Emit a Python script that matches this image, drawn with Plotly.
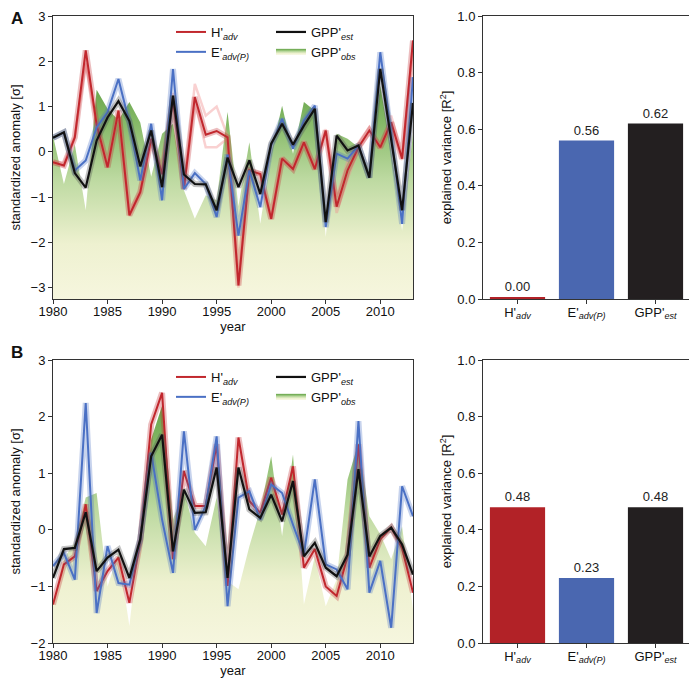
import plotly.graph_objects as go

years = list(range(1980, 2014))

# ---------- Panel A ----------
hadv_a = [-0.23, -0.30, 0.32, 2.24, 0.60, -0.34, 0.91, -1.40, -0.89, 0.29,
          -0.49, 1.17, -0.82, 1.21, 0.38, 0.46, 0.32, -2.95, -0.41, -0.49,
          -1.48, -0.15, -0.38, 0.21, -0.38, 0.47, -1.21, -0.41, 0.10, 0.47,
          0.10, 0.65, -0.15, 2.46]
hadv_a_ens1 = [-0.20, -0.25, 0.35, 1.95, 0.62, -0.30, 0.88, -1.35, -0.85, 0.25,
               -0.45, 1.30, -0.80, 1.50, 0.80, 1.00, 0.35, -2.80, -0.40, -0.45,
               -1.45, -0.12, -0.35, 0.25, -0.35, 0.50, -1.00, -0.20, 0.20, 0.55,
               0.05, 0.80, -0.10, 2.30]
hadv_a_ens2 = [-0.25, -0.32, 0.30, 2.10, 0.58, -0.36, 0.93, -1.42, -0.92, 0.20,
               -0.52, 1.10, -0.84, 1.10, 0.10, 0.10, 0.30, -3.00, -0.43, -0.52,
               -1.50, -0.18, -0.40, 0.18, -0.40, 0.45, -1.35, -0.60, 0.05, 0.40,
               0.15, 0.55, -0.18, 2.40]
eadv_a = [0.31, 0.43, -0.41, -0.19, 0.54, 0.88, 1.61, 0.65, -0.63, 0.62,
          -1.07, 1.83, -0.82, -0.47, -0.71, -1.44, -0.06, -1.85, -0.41, -1.22,
          0.14, 0.73, 0.07, 0.69, 1.02, -1.66, -0.04, -0.15, 0.14, -0.57,
          2.20, 0.40, -1.59, 1.65]
gppest_a = [0.31, 0.43, -0.47, -0.79, 0.25, 0.76, 1.12, 0.68, -0.32, 0.47,
            -0.78, 1.24, -0.50, -0.71, -0.72, -1.29, -0.13, -0.78, -0.19, -0.93,
            0.18, 0.62, 0.16, 0.58, 0.95, -1.55, 0.36, 0.03, 0.14, -0.57,
            1.83, 0.29, -1.29, 1.08]
gppobs_a = [0.35, -0.71, 0.16, -1.29, 1.37, 0.95, 0.70, 1.10, 0.65, -0.55,
            0.40, 0.62, -0.85, -1.48, -0.96, -1.07, 0.88, -1.20, 0.21, -1.59,
            -0.04, 1.02, -0.04, 1.10, 0.91, -1.88, 0.40, 0.29, 0.10, -0.41,
            1.46, 0.03, -1.74, 0.40]

# ---------- Panel B ----------
hadv_b = [-1.32, -0.61, -0.47, 0.45, -1.08, -0.73, -0.49, -1.29, -0.20, 1.86,
          2.42, -0.52, 1.04, 0.42, 0.42, 1.51, -0.99, 1.63, 0.51, 0.30,
          0.92, 0.27, 1.12, -0.67, -0.34, -1.00, -1.17, -0.47, 1.51, -0.67,
          -0.17, 0.04, -0.32, -1.11]
eadv_b = [-0.64, -0.41, -0.88, 2.24, -1.47, -0.29, -0.94, -0.97, -0.17, 1.36,
          0.18, -0.76, 1.74, 0.00, 0.42, 1.65, -1.35, 0.57, 0.68, 0.18,
          0.80, 0.65, 0.09, -0.44, 0.89, -0.61, -0.70, -1.05, 1.92, -1.11,
          -0.55, -1.73, 0.77, 0.24]
gppest_b = [-0.85, -0.34, -0.32, 0.31, -0.73, -0.49, -0.35, -0.85, -0.17, 1.30,
            1.68, -0.38, 0.71, 0.30, 0.31, 1.10, -0.85, 1.10, 0.36, 0.21,
            0.62, 0.15, 0.86, -0.47, -0.23, -0.67, -0.82, -0.44, 1.07, -0.47,
            -0.11, 0.04, -0.26, -0.79]
gppobs_b = [-1.30, -0.50, -0.23, 0.57, 0.65, -1.00, -0.41, -1.70, 0.00, 1.60,
            2.19, 0.18, 0.71, -0.05, -0.29, 0.57, -0.91, -1.05, -0.29, 0.36,
            1.30, -0.11, 1.33, -1.32, -0.47, -1.35, -0.88, 0.89, 1.54, 0.24,
            -0.08, -0.52, 0.06, -1.41]

# ---------- Bars ----------
bar_cats = ["H'<sub><i>adv</i></sub>", "E'<sub><i>adv(P)</i></sub>", "GPP'<sub><i>est</i></sub>"]
r2_a = [0.004, 0.56, 0.62]
r2_b = [0.48, 0.23, 0.48]

yrange_a = [-3.25, 3.0]
yrange_b = [-2.0, 3.0]

RED = "#c1272d"
RED_LIGHT = "rgba(240,140,140,0.4)"
BLUE = "#4a70c4"
BLACK = "#111111"
BAR_COLORS = ["#b22227", "#4a67b0", "#231f20"]
FONT = "Liberation Sans, Arial, sans-serif"
AX = "#333333"

GRAD = [[0.0, "#f6f6de"], [0.25, "#eef1d0"], [0.55, "#bcd9a0"], [0.8, "#86ba68"], [1.0, "#62a046"]]

fig = go.Figure()


def halo(x, y, color, xa, ya, width=6, op=0.3):
    fig.add_trace(go.Scatter(x=x, y=y, mode="lines", line=dict(color=color, width=width),
                             opacity=op, showlegend=False, hoverinfo="skip",
                             xaxis=xa, yaxis=ya))


def panel(hadv, eadv, gppest, gppobs, yr, xa, ya, lg1, lg2, stop, ens=()):
    # baseline for fill (axis floor)
    fig.add_trace(go.Scatter(x=years, y=[yr[0]] * len(years), mode="lines",
                             line=dict(width=0, color="rgba(0,0,0,0)"), showlegend=False,
                             hoverinfo="skip", xaxis=xa, yaxis=ya))
    fig.add_trace(go.Scatter(x=years, y=gppobs, mode="none", fill="tonexty",
                             fillcolor="#a9cc8a",
                             fillgradient=dict(type="vertical", colorscale=GRAD,
                                               start=yr[0], stop=stop),
                             name="GPP'<sub><i>obs</i></sub>", legend=lg2, legendrank=2,
                             showlegend=True, xaxis=xa, yaxis=ya))
    for e in ens:
        fig.add_trace(go.Scatter(x=years, y=e, mode="lines", line=dict(color=RED_LIGHT, width=2.5),
                                 showlegend=False, hoverinfo="skip", xaxis=xa, yaxis=ya))
    halo(years, hadv, RED, xa, ya)
    fig.add_trace(go.Scatter(x=years, y=hadv, mode="lines", line=dict(color=RED, width=2),
                             name="H'<sub><i>adv</i></sub>", legend=lg1, legendrank=1,
                             xaxis=xa, yaxis=ya))
    halo(years, eadv, BLUE, xa, ya)
    fig.add_trace(go.Scatter(x=years, y=eadv, mode="lines", line=dict(color=BLUE, width=2),
                             name="E'<sub><i>adv(P)</i></sub>", legend=lg1, legendrank=2,
                             xaxis=xa, yaxis=ya))
    halo(years, gppest, "#555555", xa, ya, width=6, op=0.35)
    fig.add_trace(go.Scatter(x=years, y=gppest, mode="lines", line=dict(color=BLACK, width=2.2),
                             name="GPP'<sub><i>est</i></sub>", legend=lg2, legendrank=1,
                             xaxis=xa, yaxis=ya))


panel(hadv_a, eadv_a, gppest_a, gppobs_a, yrange_a, "x", "y", "legend", "legend2", 1.6,
      ens=(hadv_a_ens1, hadv_a_ens2))
panel(hadv_b, eadv_b, gppest_b, gppobs_b, yrange_b, "x3", "y3", "legend3", "legend4", 2.3)

for vals, xa, ya in ((r2_a, "x2", "y2"), (r2_b, "x4", "y4")):
    fig.add_trace(go.Bar(x=bar_cats, y=vals, marker=dict(color=BAR_COLORS, line=dict(width=0)),
                         width=0.8, texttemplate="%{y:.2f}", textposition="outside",
                         textfont=dict(size=13, color="#222", family=FONT), cliponaxis=False,
                         showlegend=False, xaxis=xa, yaxis=ya))

# page body has an 8px default margin; the figure is sized and placed to compensate
OFF = 8
W, H = 697 - OFF, 682 - OFF


def xd(p):
    return (p - OFF) / W


def yd(p):
    return 1 - (p - OFF) / H


line_dom = [xd(53), xd(413)]
bar_dom = [xd(483), xd(690)]
top_dom = [yd(299), yd(16)]
bot_dom = [yd(643), yd(360)]

common = dict(showline=True, mirror=True, linecolor=AX, linewidth=1, ticks="outside",
              ticklen=4, tickcolor=AX, showgrid=False, zeroline=False, automargin=False,
              tickfont=dict(size=13, color="#111", family=FONT))
title_font = dict(size=13, color="#111", family=FONT)

year_axis = dict(common, range=[1980, 2013], tickvals=list(range(1980, 2014, 5)),
                 ticklabelstandoff=-4,
                 title=dict(text="year", font=title_font, standoff=0))
bar_x = dict(common, range=[-0.5, 2.5], type="category", ticklabelstandoff=-3)

leg = dict(xanchor="left", yanchor="top", bgcolor="rgba(0,0,0,0)", traceorder="normal",
           font=dict(size=13, family=FONT, color="#111"), tracegroupgap=0, itemwidth=30)

fig.update_layout(
    width=W, height=H, margin=dict(l=0, r=0, t=0, b=0, autoexpand=False),
    plot_bgcolor="white", paper_bgcolor="white",
    font=dict(family=FONT, size=13, color="#111"),
    xaxis=dict(year_axis, domain=line_dom, anchor="y"),
    yaxis=dict(common, domain=top_dom, anchor="x", range=yrange_a, tickvals=[-3, -2, -1, 0, 1, 2, 3],
               title=dict(text="standardized anomaly [σ]", font=title_font, standoff=22)),
    xaxis2=dict(bar_x, domain=bar_dom, anchor="y2"),
    yaxis2=dict(common, domain=top_dom, anchor="x2", range=[0, 1], tickvals=[0, 0.2, 0.4, 0.6, 0.8, 1.0],
                tickformat=".1f",
                title=dict(text="explained variance [R<sup>2</sup>]", font=title_font, standoff=2)),
    xaxis3=dict(year_axis, domain=line_dom, anchor="y3"),
    yaxis3=dict(common, domain=bot_dom, anchor="x3", range=yrange_b, tickvals=[-2, -1, 0, 1, 2, 3],
                title=dict(text="standardized anomaly [σ]", font=title_font, standoff=22)),
    xaxis4=dict(bar_x, domain=bar_dom, anchor="y4"),
    yaxis4=dict(common, domain=bot_dom, anchor="x4", range=[0, 1], tickvals=[0, 0.2, 0.4, 0.6, 0.8, 1.0],
                tickformat=".1f",
                title=dict(text="explained variance [R<sup>2</sup>]", font=title_font, standoff=2)),
    legend=dict(leg, x=xd(171), y=yd(17)),
    legend2=dict(leg, x=xd(271), y=yd(17)),
    legend3=dict(leg, x=xd(171), y=yd(362)),
    legend4=dict(leg, x=xd(271), y=yd(362)),
    annotations=[
        dict(text="<b>A</b>", x=xd(9), y=yd(7), xref="paper", yref="paper", xanchor="left",
             yanchor="top", showarrow=False, font=dict(size=17, family=FONT, color="#111")),
        dict(text="<b>B</b>", x=xd(9), y=yd(341), xref="paper", yref="paper", xanchor="left",
             yanchor="top", showarrow=False, font=dict(size=17, family=FONT, color="#111")),
    ],
)

fig.write_html("out.html")
